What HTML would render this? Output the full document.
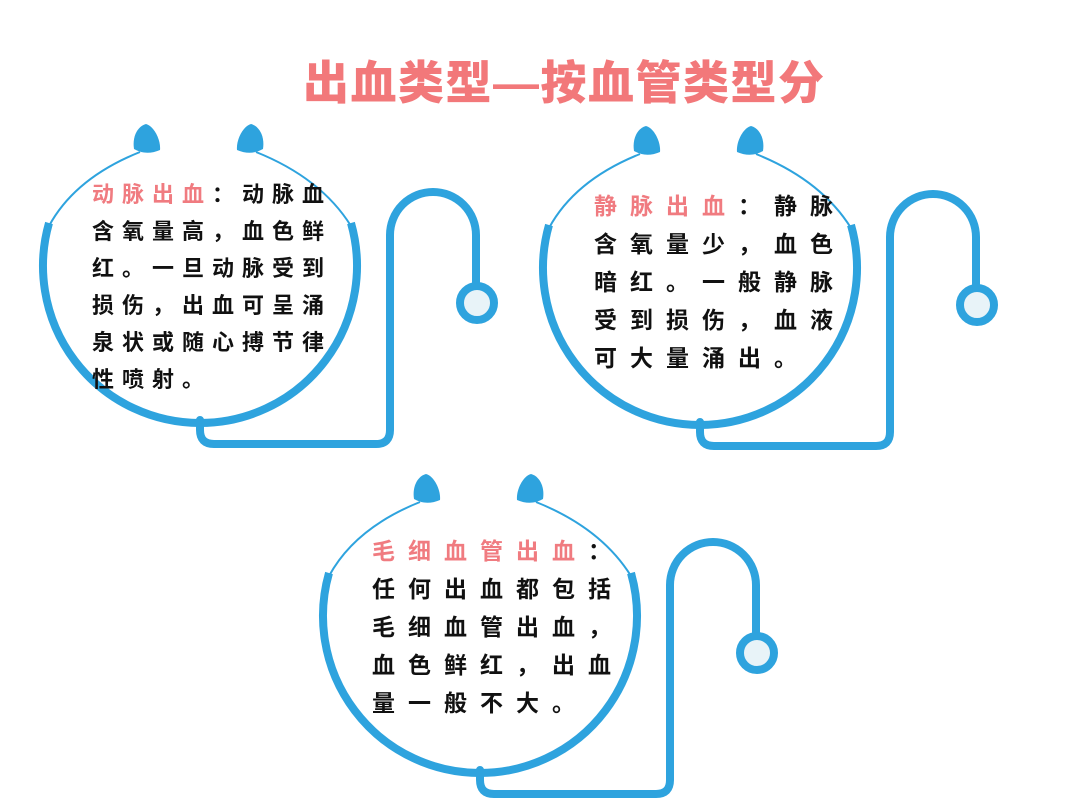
<!DOCTYPE html>
<html><head><meta charset="utf-8"><style>
html,body{margin:0;padding:0;background:#fff;}
body{width:1080px;height:810px;position:relative;overflow:hidden;font-family:"Liberation Sans","Noto Sans CJK SC",sans-serif;}
.title{position:absolute;left:303px;top:56px;font-size:46px;font-weight:900;color:#f2787a;letter-spacing:1.5px;white-space:nowrap;line-height:54px;}
.t{position:absolute;color:#111;white-space:nowrap;font-weight:bold;}
.t div{height:37px;}
.r{color:#f07b80;}
svg{position:absolute;left:0;top:0;}
</style></head><body>
<svg width="1080" height="810" viewBox="0 0 1080 810">
<defs>
<g id="st" fill="none" stroke="#2ea3de">
<path d="M140,152 Q75,178 49,226" stroke-width="2"/>
<path d="M256,152 Q321,178 351,226" stroke-width="2"/>
<path d="M49,223 A157,157 0 1 0 351,223" stroke-width="8"/>
<path d="M200,420 L200,430 Q200,444 214,444 L376,444 Q390,444 390,430 L390,235 A43,43 0 0 1 476,235 L476,285" stroke-width="8" stroke-linecap="round"/>
<circle cx="477" cy="303" r="17" stroke-width="8" fill="#e8f3f8"/>
<path d="M0,-16 C8,-14 15,0 14,10 Q0,16 -12,9 C-14,-4 -8,-14 0,-16Z" transform="translate(146,140)" fill="#2ea3de" stroke="none"/>
<path d="M0,-16 C8,-14 15,0 14,10 Q0,16 -12,9 C-14,-4 -8,-14 0,-16Z" transform="translate(251,140) scale(-1,1)" fill="#2ea3de" stroke="none"/>
</g>
</defs>
<use href="#st"/>
<use href="#st" transform="translate(500,2)"/>
<use href="#st" transform="translate(280,350)"/>
</svg>
<div class="title">出血类型—按血管类型分</div>
<div class="t" style="left:92px;top:176px;font-size:22px;letter-spacing:8px;line-height:37px;">
<div><span class="r">动脉出血</span>：动脉血</div>
<div>含氧量高，血色鲜</div>
<div>红。一旦动脉受到</div>
<div>损伤，出血可呈涌</div>
<div>泉状或随心搏节律</div>
<div>性喷射。</div>
</div>
<div class="t" style="left:594px;top:187px;font-size:23px;letter-spacing:13px;line-height:38px;">
<div style="height:38px"><span class="r">静脉出血</span>：静脉</div>
<div style="height:38px">含氧量少，血色</div>
<div style="height:38px">暗红。一般静脉</div>
<div style="height:38px">受到损伤，血液</div>
<div style="height:38px">可大量涌出。</div>
</div>
<div class="t" style="left:372px;top:532px;font-size:23px;letter-spacing:13px;line-height:38px;">
<div style="height:38px"><span class="r">毛细血管出血</span>：</div>
<div style="height:38px">任何出血都包括</div>
<div style="height:38px">毛细血管出血，</div>
<div style="height:38px">血色鲜红，出血</div>
<div style="height:38px">量一般不大。</div>
</div>
</body></html>
